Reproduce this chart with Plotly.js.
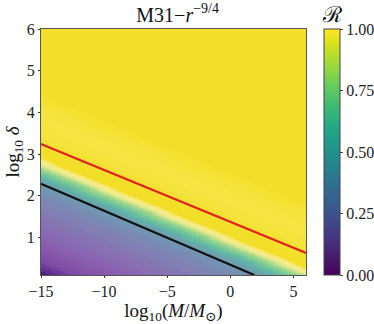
<!DOCTYPE html>
<html>
<head>
<meta charset="utf-8">
<script src="https://cdn.plot.ly/plotly-3.0.1.min.js"></script>
<style>
  html, body { margin: 0; padding: 0; background: #fff; }
  #chart { width: 374px; height: 324px; }
</style>
</head>
<body>
<div id="chart"></div>
<script>
// axis extents
var xRange = [-15, 6];
var yRange = [0.1, 6];
var xTicks = [-15, -10, -5, 0, 5];
var yTicks = [1, 2, 3, 4, 5, 6];
var cbTicks = [0, 0.25, 0.5, 0.75, 1];

// R read across the diagonal band, u = log10(delta) + (log10 M + 15)/8
var profU = [0.0, 0.1, 0.2, 0.3, 0.4, 0.5, 0.6, 0.7, 0.8, 0.9, 1.0, 1.1, 1.2, 1.3, 1.4,
             1.5, 1.6, 1.7, 1.8, 1.9, 2.0, 2.05, 2.1, 2.15, 2.2, 2.25, 2.3, 2.35, 2.4,
             2.45, 2.5, 2.55, 2.6, 2.65, 2.7, 2.75, 2.8, 2.85, 2.9, 3.2, 3.4, 3.6, 4.0, 4.2, 4.4];
var profR = [0.00, 0.02, 0.04, 0.06, 0.08, 0.10, 0.12, 0.14, 0.16, 0.18, 0.20, 0.21, 0.23, 0.24, 0.26,
             0.27, 0.29, 0.30, 0.32, 0.34, 0.36, 0.37, 0.39, 0.40, 0.42, 0.44, 0.46, 0.50, 0.55,
             0.60, 0.65, 0.70, 0.75, 0.80, 0.86, 0.91, 0.95, 0.97, 1.00, 0.996, 0.992, 0.99, 0.993, 0.997, 1.00];

// red and black curves (end points)
var redX = [-15, 6];
var redY = [3.24, 0.63];
var blackX = [-15, 1.9];
var blackY = [2.29, 0.1];

var bandSlope = 0.125;

// grid for the heatmap
var gx = [], gy = [];
for (var i = 0; i <= 210; i++) gx.push(-15 + i * 0.1);
for (var j = 0; j <= 236; j++) gy.push(0.1 + j * 0.025);

function lookupR(u) {
    var r = profR[0];
    for (var k = 0; k < profU.length; k++) {
        if (profU[k] <= u) r = profR[k];
    }
    return r;
}

var gz = gy.map(function (y) {
    return gx.map(function (x) { return lookupR(y + bandSlope * (x + 15)); });
});

// washed-out look of the rendered map
var mapColors = [
    [0.00, '#3a125e'], [0.03, '#5a2886'], [0.08, '#7d4aa5'], [0.16, '#8a5cae'],
    [0.24, '#8870b2'], [0.32, '#7e84b4'], [0.40, '#7394b2'], [0.48, '#69a6ad'],
    [0.58, '#5fb7a5'], [0.70, '#7cca94'], [0.80, '#a8d98a'], [0.90, '#e6ea8e'],
    [0.95, '#f6ec8c'], [0.99, '#f5e442'], [1.00, '#f3df2a']
];

var serif = 'Liberation Serif, DejaVu Serif, serif';

var traces = [
    {
        type: 'heatmap', x: gx, y: gy, z: gz,
        zmin: 0, zmax: 1, zsmooth: 'best',
        colorscale: mapColors, showscale: false, hoverinfo: 'skip'
    },
    {
        type: 'scatter', mode: 'lines', x: redX, y: redY,
        line: {color: '#e2231a', width: 2.2}, hoverinfo: 'skip'
    },
    {
        type: 'scatter', mode: 'lines', x: blackX, y: blackY,
        line: {color: '#111111', width: 2.2}, hoverinfo: 'skip'
    },
    {
        // only here to draw the viridis colour bar
        type: 'scatter', mode: 'markers', x: [-15, -15], y: [0.1, 0.1],
        marker: {
            size: 1, opacity: 0, color: [0, 1], cmin: 0, cmax: 1,
            colorscale: 'Viridis', showscale: true,
            colorbar: {
                x: 1.068, xanchor: 'left', xpad: 0,
                y: 0.5, yanchor: 'middle', ypad: 0, len: 1,
                thickness: 16, outlinewidth: 1, outlinecolor: '#444',
                tickvals: cbTicks, tickformat: '.2f', ticks: 'outside', ticklen: 3,
                tickfont: {family: serif, size: 16, color: '#222'}
            }
        },
        hoverinfo: 'skip'
    }
];

var axisStyle = {
    showgrid: false, zeroline: false, showline: true, mirror: true,
    linecolor: '#555', linewidth: 1, ticks: 'outside', ticklen: 2, tickcolor: '#333',
    tickfont: {family: serif, size: 16, color: '#222'}
};

var layout = {
    width: 374, height: 324,
    margin: {l: 41, r: 68, t: 29, b: 49, autoexpand: false},
    paper_bgcolor: '#fff', plot_bgcolor: '#fff',
    showlegend: false,
    title: {
        text: 'M31−<i>r</i><sup>−9/4</sup>',
        x: 0.475, xanchor: 'center', y: 0.955, yanchor: 'middle',
        font: {family: serif, size: 20, color: '#111'}
    },
    annotations: [{
        text: 'ℛ', xref: 'paper', yref: 'paper', x: 1.098, y: 1.0,
        xanchor: 'center', yanchor: 'bottom', showarrow: false,
        font: {family: serif, size: 22, color: '#111'}
    }],
    xaxis: Object.assign({}, axisStyle, {
        range: xRange, tickvals: xTicks,
        title: {text: 'log<sub>10</sub>(<i>M</i>/<i>M</i><sub>⊙</sub>)', standoff: 0,
                font: {family: serif, size: 19, color: '#111'}}
    }),
    yaxis: Object.assign({}, axisStyle, {
        range: yRange, tickvals: yTicks,
        title: {text: 'log<sub>10</sub> <i>δ</i>', standoff: 2,
                font: {family: serif, size: 19, color: '#111'}}
    })
};

Plotly.newPlot('chart', traces, layout, {displayModeBar: false, staticPlot: true});
</script>
</body>
</html>
